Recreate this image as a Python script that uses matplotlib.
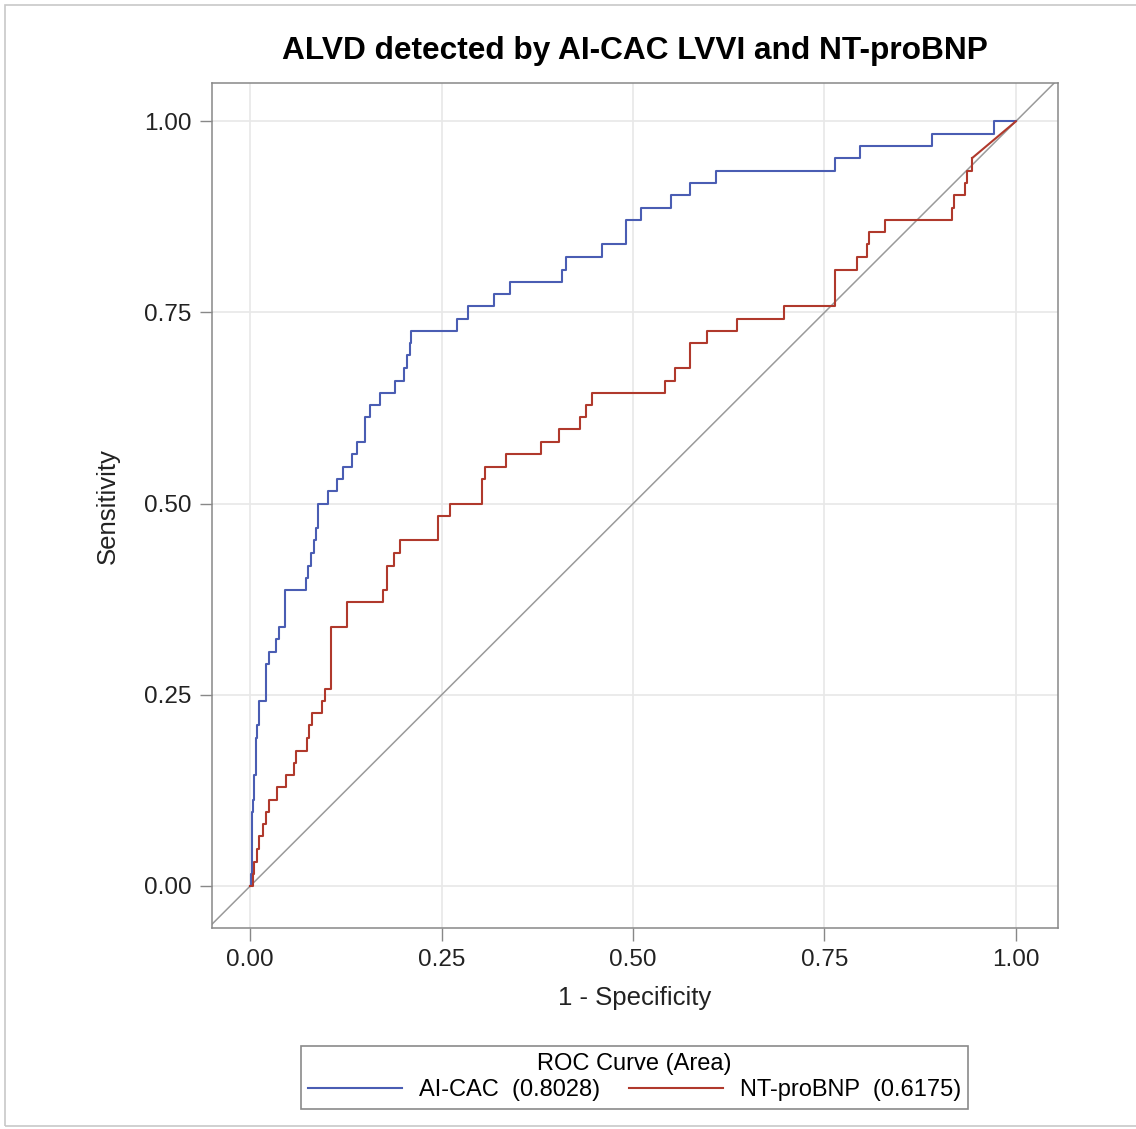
import matplotlib.pyplot as plt
from matplotlib.patches import Rectangle

plt.rcParams['font.family'] = ['Liberation Sans', 'DejaVu Sans']

# ROC step corners (1 - specificity, sensitivity)
aicac_fpr = [0.0, 0.001, 0.002, 0.004, 0.005, 0.007, 0.009, 0.011, 0.021, 0.025,
             0.033, 0.037, 0.045, 0.073, 0.076, 0.079, 0.083, 0.086, 0.089, 0.102,
             0.113, 0.121, 0.133, 0.140, 0.150, 0.157, 0.170, 0.189, 0.201, 0.205,
             0.208, 0.210, 0.270, 0.285, 0.319, 0.339, 0.407, 0.4125, 0.459, 0.491,
             0.510, 0.549, 0.575, 0.608, 0.764, 0.797, 0.890, 0.971, 1.0]
aicac_tpr = [0.0, 0.016, 0.097, 0.113, 0.145, 0.194, 0.210, 0.242, 0.290, 0.306,
             0.323, 0.339, 0.387, 0.403, 0.419, 0.435, 0.452, 0.468, 0.500, 0.516,
             0.532, 0.548, 0.565, 0.581, 0.613, 0.629, 0.645, 0.661, 0.677, 0.694,
             0.710, 0.726, 0.742, 0.758, 0.774, 0.790, 0.806, 0.823, 0.839, 0.871,
             0.887, 0.903, 0.919, 0.935, 0.952, 0.968, 0.984, 1.0, 1.0]

bnp_fpr = [0.0, 0.003, 0.005, 0.009, 0.012, 0.016, 0.020, 0.024, 0.035, 0.047,
           0.057, 0.060, 0.074, 0.077, 0.081, 0.094, 0.098, 0.106, 0.127, 0.174,
           0.179, 0.188, 0.196, 0.245, 0.261, 0.303, 0.307, 0.334, 0.380, 0.403,
           0.431, 0.439, 0.446, 0.542, 0.555, 0.574, 0.597, 0.636, 0.697, 0.764,
           0.792, 0.805, 0.808, 0.829, 0.916, 0.919, 0.933, 0.936, 0.943]
bnp_tpr = [0.0, 0.016, 0.032, 0.048, 0.065, 0.081, 0.097, 0.113, 0.129, 0.145,
           0.161, 0.177, 0.194, 0.210, 0.226, 0.242, 0.258, 0.339, 0.371, 0.387,
           0.419, 0.435, 0.452, 0.484, 0.500, 0.532, 0.548, 0.565, 0.581, 0.597,
           0.613, 0.629, 0.645, 0.661, 0.677, 0.710, 0.726, 0.742, 0.758, 0.806,
           0.823, 0.839, 0.855, 0.871, 0.887, 0.903, 0.919, 0.935, 0.952]
# tied cases at the top end are joined by a straight piece
bnp_tie_fpr = [0.943, 1.0]
bnp_tie_tpr = [0.952, 1.0]

labels = ['AI-CAC  (0.8028)', 'NT-proBNP  (0.6175)']
colors = ['#4a5db3', '#b0392c']
ticks = [0.0, 0.25, 0.5, 0.75, 1.0]
tick_labels = ['0.00', '0.25', '0.50', '0.75', '1.00']

fig = plt.figure(figsize=(11.36, 11.29), dpi=100)
ax = fig.add_axes([0.1866, 0.178, 0.7447, 0.7484])

# diagonal chance line across the whole frame
ax.plot([-0.1, 1.1], [-0.1, 1.1], color='#9a9a9a', lw=1.1, zorder=2)
ax.step(aicac_fpr, aicac_tpr, where='post', color=colors[0], lw=1.5, label=labels[0], zorder=3)
ax.step(bnp_fpr, bnp_tpr, where='post', color=colors[1], lw=1.5, label=labels[1], zorder=3)
ax.plot(bnp_tie_fpr, bnp_tie_tpr, color=colors[1], lw=1.5, zorder=3)

ax.set_xlim(-0.05, 1.055)
ax.set_ylim(-0.055, 1.05)
ax.set_xticks(ticks)
ax.set_xticklabels(tick_labels)
ax.set_yticks(ticks)
ax.set_yticklabels(tick_labels)
ax.grid(True, color='#e8e8e8', lw=1.2)
ax.set_axisbelow(True)
ax.tick_params(length=9, width=1, color='#888888', labelsize=17.5, pad=6, labelcolor='#222222')
ax.tick_params(axis='x', pad=6)
for s in ax.spines.values():
    s.set_color('#888888')
    s.set_linewidth(1.1)

ax.set_xlabel('1 - Specificity', fontsize=18.5, labelpad=11, color='#222222')
ax.set_ylabel('Sensitivity', fontsize=18.5, labelpad=17, color='#222222')
ax.set_title('ALVD detected by AI-CAC LVVI and NT-proBNP', fontsize=22.8,
             fontweight='bold', pad=17)

leg = fig.legend(loc='center', bbox_to_anchor=(0.5585, 0.046), ncol=2,
                 title='ROC Curve (Area)', fontsize=17, title_fontsize=17,
                 handlelength=4.0, columnspacing=1.2, handletextpad=0.72,
                 fancybox=False, edgecolor='#8a8a8a', framealpha=1,
                 borderpad=0.3, labelspacing=0.2)
leg.get_frame().set_linewidth(1.2)

# thin outer frame around the graph
fig.patches.append(Rectangle((0.004, 0.003), 1.2, 0.993, transform=fig.transFigure,
                             fill=False, edgecolor='#c8c8c8', lw=1.2))

fig.savefig('out.png', dpi=100)
